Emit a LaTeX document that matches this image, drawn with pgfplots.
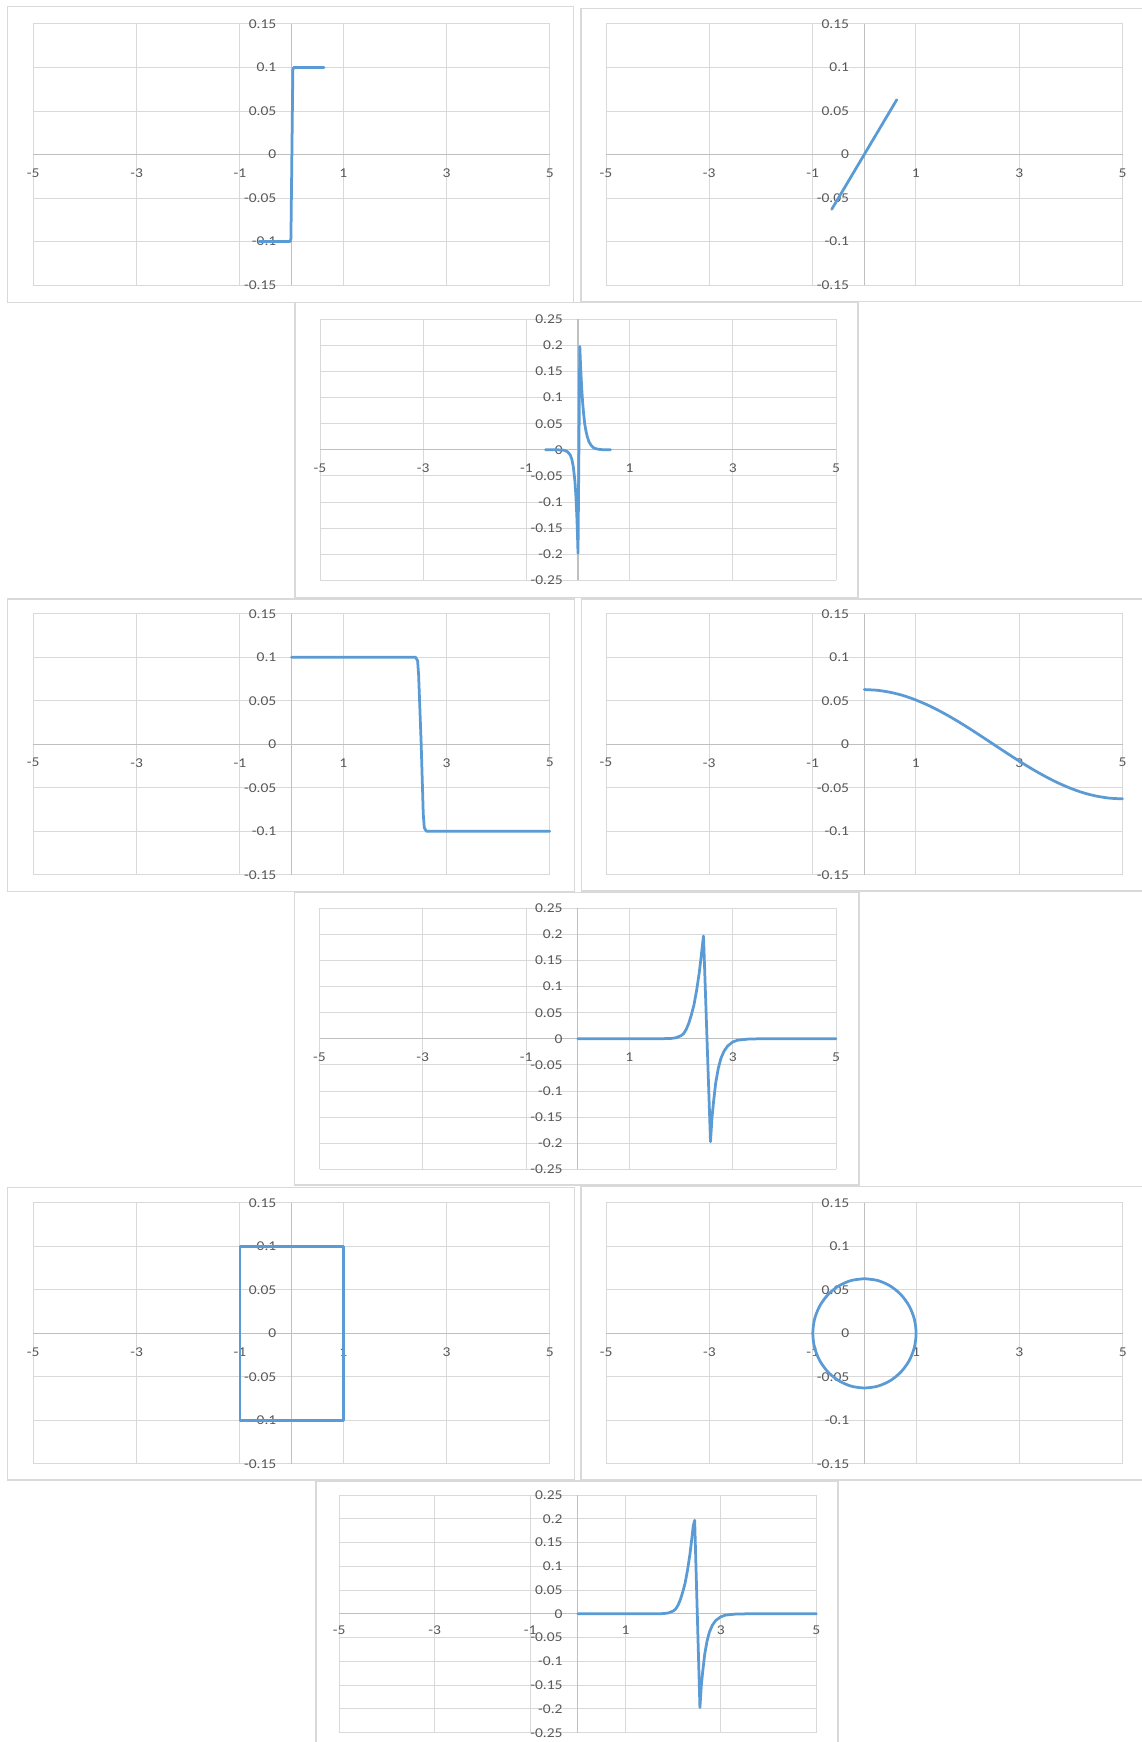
\documentclass[border=0pt]{standalone}
\usepackage{fontspec}
\setmainfont{Carlito}[FakeStretch=1.15]
\usepackage{pgfplots}
\pgfplotsset{compat=1.18}
\definecolor{gridc}{HTML}{D9D9D9}
\definecolor{zeroc}{HTML}{BFBFBF}
\definecolor{lbl}{HTML}{595959}
\definecolor{serc}{HTML}{5B9BD5}
\definecolor{framec}{HTML}{D9D9D9}
\pgfplotsset{
 panel/.style n args={3}{
   scale only axis, width=#1, height=#2, clip=false,
   xmin=-5, xmax=5, ymin=-#3, ymax=#3,
   axis line style={draw=none},
   major tick length=0pt,
   xtick={-5,-3,-1,1,3,5},
   xticklabels={-5,-3,-1,1,3,5},
   xmajorgrids, ymajorgrids,
   major grid style={draw=gridc, line width=1pt},
   extra x ticks={0}, extra x tick labels={},
   extra y ticks={0}, extra y tick labels={0},
   extra tick style={major grid style={draw=zeroc, line width=1.2pt}},
   tick label style={font=\fontsize{13.5pt}{14pt}\selectfont, text=lbl, inner sep=0pt},
   xticklabel style={anchor=center, yshift=#2/2-18.5pt},
   yticklabel style={anchor=east, xshift=#1/2-15pt},
 },
 s15/.style={ytick={-0.15,-0.1,-0.05,0.05,0.1,0.15}, yticklabels={-0.15,-0.1,-0.05,0.05,0.1,0.15}},
 s25/.style={ytick={-0.25,-0.2,-0.15,-0.1,-0.05,0.05,0.1,0.15,0.2,0.25}, yticklabels={-0.25,-0.2,-0.15,-0.1,-0.05,0.05,0.1,0.15,0.2,0.25}},
 ser/.style={color=serc, line width=2.75pt, line join=round, line cap=round, mark=none},
}
\begin{document}
\begin{tikzpicture}
\useasboundingbox (0,0) rectangle (1141pt,-1742pt);
\fill[white] (0,0) rectangle (1141pt,-1742pt);
% frames
\begin{scope}[draw=framec, line width=1.5pt]
\draw (7.4pt,-6.7pt) rectangle (573.4pt,-302.3pt);
\draw (581pt,-8.3pt) rectangle (1146pt,-301.7pt);
\draw (295pt,-302.3pt) rectangle (858pt,-597.3pt);
\draw (7.4pt,-599pt) rectangle (574.5pt,-891.3pt);
\draw (581.5pt,-599pt) rectangle (1146pt,-891pt);
\draw (294.4pt,-892.7pt) rectangle (859pt,-1185pt);
\draw (7.4pt,-1187.7pt) rectangle (574.5pt,-1480pt);
\draw (581pt,-1186.7pt) rectangle (1146pt,-1480pt);
\draw (316.2pt,-1481pt) rectangle (838pt,-1750pt);
\end{scope}

% P1 step
\begin{axis}[panel={516.5pt}{261pt}{0.15}, s15, at={(33.3pt,-285pt)}, anchor=south west]
\addplot[ser] coordinates {(-0.63,-0.1) (-0.03,-0.1) (-0.012,-0.097) (0.025,0.097) (0.04,0.1) (0.63,0.1)};
\end{axis}

% P2 line
\begin{axis}[panel={516.5pt}{261pt}{0.15}, s15, at={(606pt,-285pt)}, anchor=south west]
\addplot[ser] coordinates {(-0.63,-0.063) (0.63,0.063)};
\end{axis}

% P3 spike
\begin{axis}[panel={516pt}{261pt}{0.25}, s25, at={(320pt,-580.3pt)}, anchor=south west]
\addplot[ser] coordinates {(-0.63,0) (-0.4,0) (-0.3,-0.0005) (-0.25,-0.0013) (-0.2,-0.004) (-0.15,-0.01) (-0.12,-0.018) (-0.09,-0.033) (-0.06,-0.06) (-0.04,-0.09) (-0.02,-0.134) (-0.01,-0.164) (0.0,-0.198) (0.035,0.198) (0.05,0.16) (0.07,0.121) (0.09,0.09) (0.11,0.068) (0.13,0.05) (0.15,0.038) (0.18,0.025) (0.21,0.016) (0.25,0.009) (0.3,0.004) (0.35,0.002) (0.4,0.001) (0.5,0) (0.63,0)};
\end{axis}

% P4 step down
\begin{axis}[panel={516.5pt}{261pt}{0.15}, s15, at={(33.3pt,-874.7pt)}, anchor=south west]
\addplot[ser] coordinates {(0,0.1) (2.40,0.1) (2.44,0.096) (2.46,0.08) (2.51,0.0) (2.55,-0.08) (2.57,-0.096) (2.61,-0.1) (5,-0.1)};
\end{axis}

% P5 cosine
\begin{axis}[panel={516.5pt}{261pt}{0.15}, s15, at={(606pt,-874.7pt)}, anchor=south west]
\addplot[ser, smooth] coordinates {(0,0.0628) (0.25,0.0620) (0.5,0.0597) (0.75,0.0560) (1.0,0.0508) (1.25,0.0444) (1.5,0.0369) (1.75,0.0285) (2.0,0.0194) (2.25,0.0098) (2.5,0) (2.75,-0.0098) (3.0,-0.0194) (3.25,-0.0285) (3.5,-0.0369) (3.75,-0.0444) (4.0,-0.0508) (4.25,-0.0560) (4.5,-0.0597) (4.75,-0.0620) (5.0,-0.0628)};
\end{axis}

% P6 spike pair
\begin{axis}[panel={516.5pt}{261pt}{0.25}, s25, at={(319.5pt,-1169.3pt)}, anchor=south west]
\addplot[ser] coordinates {(0,0) (1.5,0) (1.8,0.0006) (1.9,0.002) (2.0,0.006) (2.05,0.01) (2.1,0.018) (2.15,0.03) (2.2,0.046) (2.25,0.065) (2.3,0.092) (2.35,0.125) (2.39,0.158) (2.42,0.185) (2.435,0.197) (2.57,-0.197) (2.6,-0.15) (2.63,-0.12) (2.67,-0.085) (2.72,-0.057) (2.77,-0.038) (2.83,-0.024) (2.9,-0.014) (3.0,-0.006) (3.1,-0.0025) (3.3,-0.0005) (3.5,0) (5,0)};
\end{axis}

% P7 rectangle
\begin{axis}[panel={516.5pt}{261pt}{0.15}, s15, at={(33.3pt,-1463.8pt)}, anchor=south west]
\addplot[ser, line cap=butt] coordinates {(-1,-0.1) (-1,0.1) (1,0.1) (1,-0.1) (-1,-0.1)} -- cycle;
\end{axis}

% P8 ellipse
\begin{axis}[panel={516.5pt}{261pt}{0.15}, s15, at={(606.2pt,-1463.8pt)}, anchor=south west]
\addplot[ser, smooth] coordinates {(0,0.0628) (-0.2588,0.0607) (-0.5,0.0544) (-0.7071,0.0444) (-0.8660,0.0314) (-0.9659,0.0163) (-1,0) (-0.9659,-0.0163) (-0.8660,-0.0314) (-0.7071,-0.0444) (-0.5,-0.0544) (-0.2588,-0.0607) (0,-0.0628) (0.2588,-0.0607) (0.5,-0.0544) (0.7071,-0.0444) (0.8660,-0.0314) (0.9659,-0.0163) (1,0) (0.9659,0.0163) (0.8660,0.0314) (0.7071,0.0444) (0.5,0.0544) (0.2588,0.0607) (0,0.0628)};
\end{axis}

% P9 spike pair
\begin{axis}[panel={477pt}{237.7pt}{0.25}, s25, at={(339.3pt,-1732.7pt)}, anchor=south west, xticklabel style={yshift=2.5pt}]
\addplot[ser] coordinates {(0,0) (1.5,0) (1.8,0.0006) (1.9,0.002) (2.0,0.006) (2.05,0.01) (2.1,0.018) (2.15,0.03) (2.2,0.046) (2.25,0.065) (2.3,0.092) (2.35,0.125) (2.39,0.158) (2.42,0.185) (2.45,0.197) (2.56,-0.197) (2.59,-0.15) (2.62,-0.12) (2.66,-0.085) (2.71,-0.057) (2.76,-0.038) (2.82,-0.024) (2.89,-0.014) (3.0,-0.006) (3.1,-0.0025) (3.3,-0.0005) (3.5,0) (5,0)};
\end{axis}
\end{tikzpicture}
\end{document}
